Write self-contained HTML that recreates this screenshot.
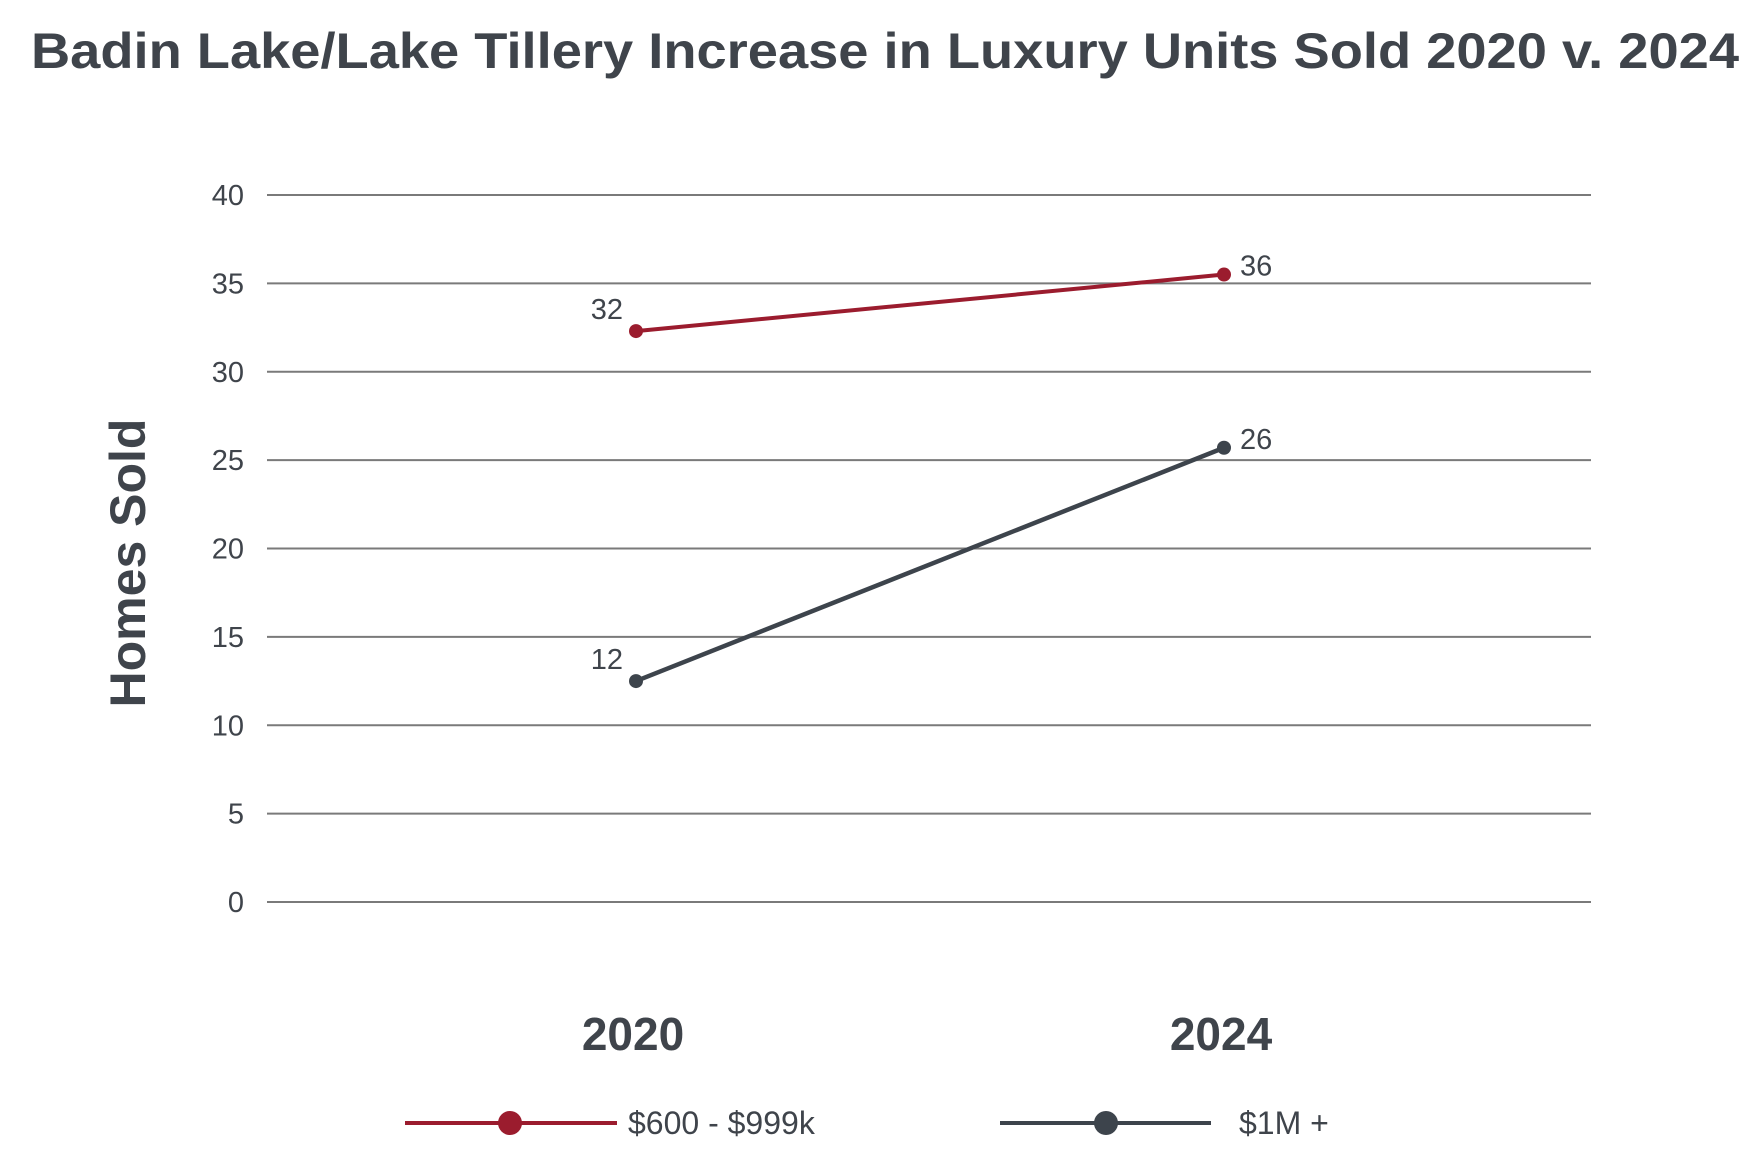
<!DOCTYPE html>
<html><head><meta charset="utf-8"><style>
html,body{margin:0;padding:0;background:#fff;}
svg{display:block;font-family:"Liberation Sans",sans-serif;}
</style></head><body>
<svg id="chart" width="1757" height="1154" viewBox="0 0 1757 1154">
<text x="885" y="68" text-anchor="middle" font-size="50" font-weight="bold" fill="#3f444b" textLength="1708" lengthAdjust="spacingAndGlyphs">Badin Lake/Lake Tillery Increase in Luxury Units Sold 2020 v. 2024</text>
<text transform="translate(145,563) rotate(-90)" text-anchor="middle" font-size="50" font-weight="bold" fill="#3f444b">Homes Sold</text>
<g id="grid"></g><g id="series"></g>
<g>
<g>
<line x1="405" y1="1123" x2="617" y2="1123" stroke="#9b1c2e" stroke-width="4"/>
<circle cx="510" cy="1123" r="12" fill="#9b1c2e"/>
<text x="628" y="1134" font-size="32" fill="#3f444b">$600 - $999k</text></g>
<g>
<line x1="1000" y1="1123" x2="1211" y2="1123" stroke="#3d444c" stroke-width="4"/>
<circle cx="1106" cy="1123" r="12" fill="#3d444c"/>
<text x="1239" y="1134" font-size="32" fill="#3f444b">$1M +</text></g>
</g>
</svg>
<script>
const categories = ["2020", "2024"];
const seriesRed = [32.3, 35.5];
const seriesGray = [12.5, 25.7];
const labelsRed = ["32", "36"];
const labelsGray = ["12", "26"];
const yTicks = [0, 5, 10, 15, 20, 25, 30, 35, 40];

const NS = "http://www.w3.org/2000/svg";
const y = v => 902 - v * (902 - 195) / 40;
const x = i => 636 + i * (1224 - 636);
function mk(tag, attrs, parent) { const e = document.createElementNS(NS, tag); for (const k in attrs) e.setAttribute(k, attrs[k]); parent.appendChild(e); return e; }
const grid = document.getElementById("grid");
yTicks.forEach(t => {
  const l = mk("line", {x1: 267, x2: 1591, y1: y(t), y2: y(t), stroke: "#7a7a7a", "stroke-width": 2}, grid);
  
  
  const tx = mk("text", {x: 244, y: y(t) + 10, "text-anchor": "end", "font-size": 29, fill: "#3f444b"}, grid);
  tx.textContent = t;
  
  
});
categories.forEach((c, i) => {
  const tx = mk("text", {x: x(i) - 3, y: 1050, "text-anchor": "middle", "font-size": 46, "font-weight": "bold", fill: "#3f444b"}, grid);
  tx.textContent = c;
  
  
});
const sg = document.getElementById("series");
function drawSeries(vals, labels, color, name, sw) {
  const pl = mk("polyline", {points: vals.map((v, i) => x(i) + "," + y(v)).join(" "), fill: "none", stroke: color, "stroke-width": sw}, sg);
  
  
  vals.forEach((v, i) => {
    const c = mk("circle", {cx: x(i), cy: y(v), r: 7, fill: color}, sg);
    
    
    const t = mk("text", {x: i === 0 ? x(i) - 13 : x(i) + 16, y: i === 0 ? y(v) - 12 : y(v) + 1, "text-anchor": i === 0 ? "end" : "start", "font-size": 29, fill: "#3f444b"}, sg);
    t.textContent = labels[i];
    
    
  });
}
drawSeries(seriesRed, labelsRed, "#9b1c2e", "series-600-999k", 4);
drawSeries(seriesGray, labelsGray, "#3d444c", "series-1m-plus", 4.5);
</script>
</body></html>
